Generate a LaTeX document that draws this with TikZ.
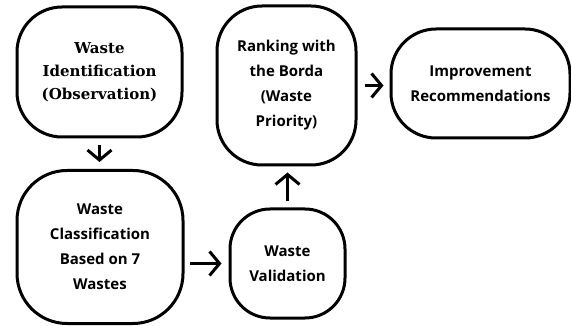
\documentclass[tikz,border=0pt]{standalone}
\usepackage{fontspec}
\setmainfont{Open Sans}
\newfontfamily\serifbox{DejaVu Serif}[BoldFont={DejaVu Serif Bold}]
\usetikzlibrary{arrows.meta}
\begin{document}
\begin{tikzpicture}[x=1pt,y=-1pt,
  box/.style={draw=black, line width=3pt, align=center, inner sep=0pt},
  sanstxt/.style={font=\fontsize{15}{25}\selectfont\bfseries},
  seriftxt/.style={font=\serifbox\bfseries\fontsize{15}{23}\selectfont},
  arr/.style={line width=3pt, -{Straight Barb[length=10pt,width=24pt,line width=3pt]}}]
\useasboundingbox (0,0) rectangle (571,326);
\node[box, seriftxt, minimum width=165pt, minimum height=130pt, rounded corners=45pt] (ident) at (99.5,72) {Waste\\Identification\\(Observation)};
\node[box, sanstxt, minimum width=166pt, minimum height=153pt, rounded corners=50pt] (class) at (100,247) {Waste\\Classification\\Based on 7\\Wastes};
\node[box, sanstxt, minimum width=115pt, minimum height=109pt, rounded corners=40pt] (valid) at (287.5,263.5) {Waste\\Validation};
\node[box, sanstxt, minimum width=139pt, minimum height=159pt, rounded corners=45pt] (rank) at (286.5,85.5) {Ranking with\\the Borda\\(Waste\\Priority)};
\node[box, sanstxt, minimum width=179pt, minimum height=109pt, rounded corners=45pt] (impr) at (480.5,83.5) {Improvement\\Recommendations};
\draw[arr, shorten <=7pt, shorten >=7pt] (ident.south) -- (ident.south |- class.north);
\draw[arr, shorten <=5pt, shorten >=7pt] (class.east |- valid.west) -- (valid.west);
\draw[arr, shorten <=6pt, shorten >=6pt] (valid.north) -- (valid.north |- rank.south);
\draw[arr, shorten <=7pt, shorten >=6pt] (rank.east) -- (rank.east -| impr.west);
\end{tikzpicture}
\end{document}
